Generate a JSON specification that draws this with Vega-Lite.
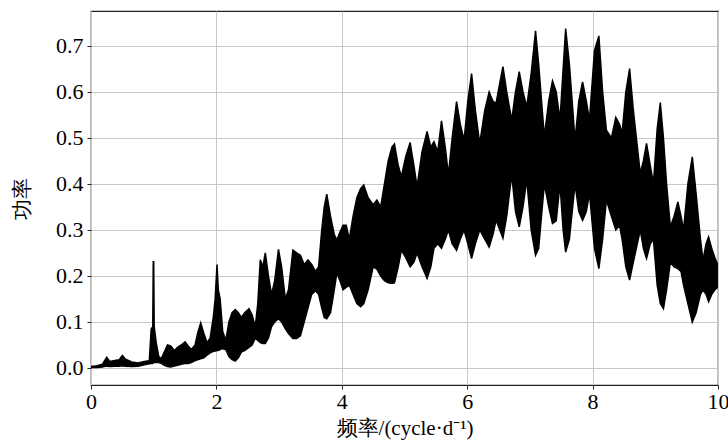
{
  "$schema": "https://vega.github.io/schema/vega-lite/v6.json",
  "width": 627,
  "height": 374,
  "autosize": {"type": "none"},
  "padding": {"left": 91, "top": 11, "right": 10, "bottom": 60},
  "background": "white",
  "config": {
    "view": {"stroke": "#222222", "strokeWidth": 1.2},
    "axis": {
      "labelFont": "Liberation Serif",
      "titleFont": "Liberation Serif",
      "labelFontSize": 22,
      "titleFontSize": 21,
      "labelColor": "black",
      "titleColor": "black",
      "titleFontWeight": "normal",
      "tickColor": "#222222",
      "tickSize": 4,
      "domain": false,
      "gridColor": "#c8c8c8",
      "gridWidth": 1
    }
  },
  "data": {
    "values": [
      {"f": 0.00, "hi": 0.003, "lo": 0.001},
      {"f": 0.10, "hi": 0.005, "lo": 0.001},
      {"f": 0.18, "hi": 0.008, "lo": 0.002},
      {"f": 0.25, "hi": 0.023, "lo": 0.004},
      {"f": 0.30, "hi": 0.014, "lo": 0.003},
      {"f": 0.40, "hi": 0.017, "lo": 0.004},
      {"f": 0.45, "hi": 0.018, "lo": 0.004},
      {"f": 0.50, "hi": 0.027, "lo": 0.005},
      {"f": 0.55, "hi": 0.019, "lo": 0.004},
      {"f": 0.65, "hi": 0.013, "lo": 0.003},
      {"f": 0.75, "hi": 0.011, "lo": 0.004},
      {"f": 0.85, "hi": 0.014, "lo": 0.007},
      {"f": 0.93, "hi": 0.016, "lo": 0.009},
      {"f": 0.96, "hi": 0.085, "lo": 0.010},
      {"f": 0.985, "hi": 0.09, "lo": 0.010},
      {"f": 0.993, "hi": 0.231, "lo": 0.012},
      {"f": 1.000, "hi": 0.231, "lo": 0.012},
      {"f": 1.008, "hi": 0.09, "lo": 0.012},
      {"f": 1.04, "hi": 0.055, "lo": 0.012},
      {"f": 1.08, "hi": 0.025, "lo": 0.012},
      {"f": 1.12, "hi": 0.02, "lo": 0.010},
      {"f": 1.17, "hi": 0.035, "lo": 0.006},
      {"f": 1.22, "hi": 0.05, "lo": 0.003},
      {"f": 1.27, "hi": 0.048, "lo": 0.002},
      {"f": 1.33, "hi": 0.038, "lo": 0.004},
      {"f": 1.38, "hi": 0.045, "lo": 0.006},
      {"f": 1.44, "hi": 0.05, "lo": 0.008},
      {"f": 1.50, "hi": 0.057, "lo": 0.010},
      {"f": 1.55, "hi": 0.048, "lo": 0.010},
      {"f": 1.60, "hi": 0.04, "lo": 0.012},
      {"f": 1.66, "hi": 0.05, "lo": 0.016},
      {"f": 1.70, "hi": 0.075, "lo": 0.018},
      {"f": 1.75, "hi": 0.098, "lo": 0.02},
      {"f": 1.80, "hi": 0.075, "lo": 0.022},
      {"f": 1.85, "hi": 0.055, "lo": 0.028},
      {"f": 1.90, "hi": 0.065, "lo": 0.033},
      {"f": 1.95, "hi": 0.11, "lo": 0.036},
      {"f": 1.98, "hi": 0.15, "lo": 0.037},
      {"f": 2.01, "hi": 0.225, "lo": 0.038},
      {"f": 2.03, "hi": 0.17, "lo": 0.038},
      {"f": 2.06, "hi": 0.15, "lo": 0.040},
      {"f": 2.10, "hi": 0.08, "lo": 0.042},
      {"f": 2.15, "hi": 0.06, "lo": 0.040},
      {"f": 2.20, "hi": 0.1, "lo": 0.025},
      {"f": 2.25, "hi": 0.12, "lo": 0.018},
      {"f": 2.30, "hi": 0.127, "lo": 0.015},
      {"f": 2.35, "hi": 0.12, "lo": 0.022},
      {"f": 2.40, "hi": 0.11, "lo": 0.035},
      {"f": 2.45, "hi": 0.12, "lo": 0.038},
      {"f": 2.52, "hi": 0.129, "lo": 0.045},
      {"f": 2.57, "hi": 0.115, "lo": 0.05},
      {"f": 2.62, "hi": 0.09, "lo": 0.065},
      {"f": 2.66, "hi": 0.14, "lo": 0.06},
      {"f": 2.70, "hi": 0.235, "lo": 0.055},
      {"f": 2.74, "hi": 0.22, "lo": 0.053},
      {"f": 2.78, "hi": 0.25, "lo": 0.053},
      {"f": 2.83, "hi": 0.2, "lo": 0.065},
      {"f": 2.88, "hi": 0.16, "lo": 0.09},
      {"f": 2.93, "hi": 0.19, "lo": 0.10},
      {"f": 2.99, "hi": 0.258, "lo": 0.107},
      {"f": 3.04, "hi": 0.22, "lo": 0.10},
      {"f": 3.10, "hi": 0.15, "lo": 0.085},
      {"f": 3.15, "hi": 0.17, "lo": 0.075},
      {"f": 3.22, "hi": 0.256, "lo": 0.064},
      {"f": 3.28, "hi": 0.25, "lo": 0.064},
      {"f": 3.34, "hi": 0.245, "lo": 0.07},
      {"f": 3.40, "hi": 0.225, "lo": 0.10},
      {"f": 3.46, "hi": 0.235, "lo": 0.13},
      {"f": 3.52, "hi": 0.225, "lo": 0.16},
      {"f": 3.58, "hi": 0.21, "lo": 0.168},
      {"f": 3.63, "hi": 0.22, "lo": 0.16},
      {"f": 3.68, "hi": 0.3, "lo": 0.13},
      {"f": 3.72, "hi": 0.35, "lo": 0.11},
      {"f": 3.76, "hi": 0.378, "lo": 0.107},
      {"f": 3.82, "hi": 0.33, "lo": 0.12},
      {"f": 3.88, "hi": 0.29, "lo": 0.17},
      {"f": 3.92, "hi": 0.278, "lo": 0.206},
      {"f": 3.97, "hi": 0.295, "lo": 0.19},
      {"f": 4.02, "hi": 0.31, "lo": 0.17},
      {"f": 4.07, "hi": 0.31, "lo": 0.175},
      {"f": 4.12, "hi": 0.28, "lo": 0.18},
      {"f": 4.18, "hi": 0.33, "lo": 0.16},
      {"f": 4.24, "hi": 0.37, "lo": 0.14},
      {"f": 4.30, "hi": 0.39, "lo": 0.133},
      {"f": 4.35, "hi": 0.398, "lo": 0.14},
      {"f": 4.42, "hi": 0.37, "lo": 0.17},
      {"f": 4.50, "hi": 0.355, "lo": 0.22},
      {"f": 4.56, "hi": 0.365, "lo": 0.215},
      {"f": 4.62, "hi": 0.35, "lo": 0.2},
      {"f": 4.68, "hi": 0.4, "lo": 0.19},
      {"f": 4.74, "hi": 0.45, "lo": 0.185},
      {"f": 4.80, "hi": 0.48, "lo": 0.184},
      {"f": 4.84, "hi": 0.487, "lo": 0.185},
      {"f": 4.90, "hi": 0.44, "lo": 0.22},
      {"f": 4.95, "hi": 0.416, "lo": 0.256},
      {"f": 5.02, "hi": 0.46, "lo": 0.24},
      {"f": 5.09, "hi": 0.49, "lo": 0.22},
      {"f": 5.15, "hi": 0.44, "lo": 0.23},
      {"f": 5.20, "hi": 0.394, "lo": 0.25},
      {"f": 5.28, "hi": 0.47, "lo": 0.22},
      {"f": 5.36, "hi": 0.514, "lo": 0.195},
      {"f": 5.42, "hi": 0.48, "lo": 0.22},
      {"f": 5.47, "hi": 0.492, "lo": 0.26},
      {"f": 5.53, "hi": 0.47, "lo": 0.27},
      {"f": 5.59, "hi": 0.537, "lo": 0.26},
      {"f": 5.65, "hi": 0.48, "lo": 0.28},
      {"f": 5.70, "hi": 0.42, "lo": 0.30},
      {"f": 5.76, "hi": 0.5, "lo": 0.27},
      {"f": 5.83, "hi": 0.579, "lo": 0.256},
      {"f": 5.89, "hi": 0.53, "lo": 0.28},
      {"f": 5.95, "hi": 0.495, "lo": 0.3},
      {"f": 6.01, "hi": 0.58, "lo": 0.27},
      {"f": 6.07, "hi": 0.64, "lo": 0.238},
      {"f": 6.13, "hi": 0.56, "lo": 0.27},
      {"f": 6.20, "hi": 0.488, "lo": 0.3},
      {"f": 6.28, "hi": 0.56, "lo": 0.28},
      {"f": 6.35, "hi": 0.60, "lo": 0.263},
      {"f": 6.41, "hi": 0.58, "lo": 0.29},
      {"f": 6.46, "hi": 0.575, "lo": 0.321},
      {"f": 6.52, "hi": 0.62, "lo": 0.30},
      {"f": 6.57, "hi": 0.655, "lo": 0.282},
      {"f": 6.63, "hi": 0.6, "lo": 0.33},
      {"f": 6.71, "hi": 0.539, "lo": 0.42},
      {"f": 6.77, "hi": 0.6, "lo": 0.34},
      {"f": 6.83, "hi": 0.644, "lo": 0.307},
      {"f": 6.89, "hi": 0.6, "lo": 0.35},
      {"f": 6.95, "hi": 0.568, "lo": 0.41},
      {"f": 7.02, "hi": 0.64, "lo": 0.3},
      {"f": 7.09, "hi": 0.733, "lo": 0.245},
      {"f": 7.14, "hi": 0.66, "lo": 0.26},
      {"f": 7.23, "hi": 0.503, "lo": 0.40},
      {"f": 7.30, "hi": 0.58, "lo": 0.35},
      {"f": 7.36, "hi": 0.624, "lo": 0.314},
      {"f": 7.42, "hi": 0.6, "lo": 0.32},
      {"f": 7.48, "hi": 0.539, "lo": 0.40},
      {"f": 7.53, "hi": 0.65, "lo": 0.3},
      {"f": 7.57, "hi": 0.738, "lo": 0.252},
      {"f": 7.63, "hi": 0.66, "lo": 0.28},
      {"f": 7.72, "hi": 0.495, "lo": 0.40},
      {"f": 7.78, "hi": 0.58, "lo": 0.34},
      {"f": 7.84, "hi": 0.622, "lo": 0.321},
      {"f": 7.90, "hi": 0.58, "lo": 0.34},
      {"f": 7.95, "hi": 0.539, "lo": 0.38},
      {"f": 8.03, "hi": 0.69, "lo": 0.26},
      {"f": 8.10, "hi": 0.722, "lo": 0.216},
      {"f": 8.16, "hi": 0.6, "lo": 0.28},
      {"f": 8.22, "hi": 0.517, "lo": 0.365},
      {"f": 8.30, "hi": 0.5, "lo": 0.33},
      {"f": 8.37, "hi": 0.545, "lo": 0.30},
      {"f": 8.43, "hi": 0.53, "lo": 0.31},
      {"f": 8.47, "hi": 0.51, "lo": 0.28},
      {"f": 8.53, "hi": 0.6, "lo": 0.22},
      {"f": 8.59, "hi": 0.651, "lo": 0.191},
      {"f": 8.65, "hi": 0.56, "lo": 0.23},
      {"f": 8.76, "hi": 0.423, "lo": 0.3},
      {"f": 8.81, "hi": 0.45, "lo": 0.26},
      {"f": 8.86, "hi": 0.488, "lo": 0.238},
      {"f": 8.92, "hi": 0.44, "lo": 0.27},
      {"f": 8.97, "hi": 0.401, "lo": 0.28},
      {"f": 9.03, "hi": 0.52, "lo": 0.18},
      {"f": 9.08, "hi": 0.577, "lo": 0.14},
      {"f": 9.13, "hi": 0.5, "lo": 0.129},
      {"f": 9.18, "hi": 0.4, "lo": 0.17},
      {"f": 9.24, "hi": 0.307, "lo": 0.23},
      {"f": 9.30, "hi": 0.33, "lo": 0.22},
      {"f": 9.36, "hi": 0.361, "lo": 0.216},
      {"f": 9.41, "hi": 0.33, "lo": 0.21},
      {"f": 9.45, "hi": 0.3, "lo": 0.18},
      {"f": 9.52, "hi": 0.4, "lo": 0.14},
      {"f": 9.59, "hi": 0.459, "lo": 0.10},
      {"f": 9.65, "hi": 0.38, "lo": 0.12},
      {"f": 9.72, "hi": 0.28, "lo": 0.16},
      {"f": 9.76, "hi": 0.234, "lo": 0.17},
      {"f": 9.81, "hi": 0.27, "lo": 0.16},
      {"f": 9.85, "hi": 0.285, "lo": 0.144},
      {"f": 9.90, "hi": 0.26, "lo": 0.16},
      {"f": 9.95, "hi": 0.24, "lo": 0.17},
      {"f": 10.0, "hi": 0.223, "lo": 0.176}
    ]
  },
  "mark": {"type": "area", "color": "black", "stroke": "black", "strokeWidth": 1.5, "opacity": 1, "clip": true},
  "encoding": {
    "x": {
      "field": "f",
      "type": "quantitative",
      "scale": {"domain": [0, 10], "nice": false, "zero": false},
      "axis": {"title": "频率/(cycle·d⁻¹)", "values": [0, 2, 4, 6, 8, 10], "format": "d", "labelPadding": 2, "titlePadding": 5, "labelFlush": false}
    },
    "y": {
      "field": "hi",
      "type": "quantitative",
      "scale": {"domain": [-0.037, 0.776], "nice": false, "zero": false},
      "axis": {"title": "功率", "values": [0, 0.1, 0.2, 0.3, 0.4, 0.5, 0.6, 0.7], "format": ".1f", "labelPadding": 4, "titlePadding": 23}
    },
    "y2": {"field": "lo"}
  }
}
